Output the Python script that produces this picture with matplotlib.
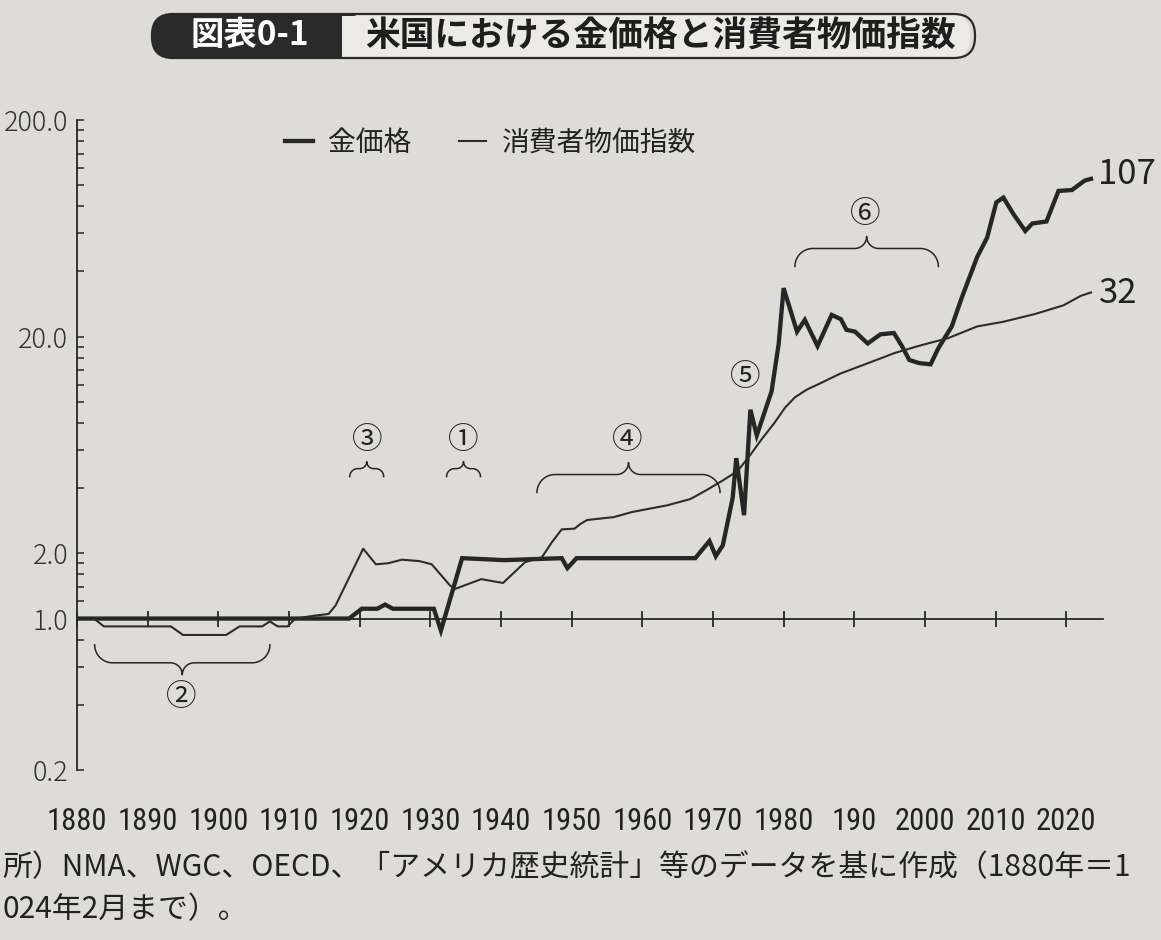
import numpy as np
import matplotlib
matplotlib.use("Agg")
import matplotlib.pyplot as plt
import matplotlib.transforms as mtransforms
import matplotlib.font_manager as fm
from matplotlib.patches import FancyBboxPatch, Rectangle

# ---- data (1880 = 1) ----
gold_years = [1880, 1918.5, 1920.3, 1922.5, 1923.6, 1924.7, 1930.5, 1931.5, 1934.5,
              1940.5, 1948.6, 1949.4, 1950.7, 1967.5, 1969.5, 1970.4, 1971.4, 1972.8,
              1973.3, 1974.4, 1975.3, 1976.2, 1978.3, 1979.3, 1980.0, 1981.9, 1983.0,
              1984.8, 1986.8, 1988.1, 1988.9, 1990.1, 1991.9, 1993.7, 1995.6, 1996.7,
              1997.8, 1999.2, 2000.8, 2001.9, 2003.8, 2005.2, 2007.4, 2008.8, 2010.1,
              2011.1, 2012.5, 2014.2, 2015.2, 2017.2, 2018.9, 2020.8, 2022.6, 2023.5]
gold_vals = [1.0, 1.0, 1.11, 1.11, 1.16, 1.11, 1.11, 0.88, 1.9,
             1.86, 1.9, 1.71, 1.9, 1.9, 2.28, 1.94, 2.18, 3.62,
             5.5, 3.0, 9.2, 7.0, 11.2, 18.5, 33.5, 21.1, 23.9,
             18.1, 25.2, 24.1, 21.5, 21.1, 18.6, 20.5, 20.8, 18.2,
             15.6, 15.1, 14.9, 17.7, 22.3, 30.2, 46.7, 57.3, 83.3,
             87.7, 73.8, 61.5, 66.6, 68.0, 94.1, 95.0, 105, 107]

cpi_years = [1880, 1882.4, 1883.8, 1893.3, 1895.0, 1901.1, 1903.0, 1906.2, 1907.3,
             1908.4, 1909.8, 1910.9, 1913.5, 1915.6, 1916.6, 1920.5, 1922.3, 1924.0,
             1926.0, 1928.5, 1930.2, 1932.8, 1933.5, 1937.2, 1940.3, 1943.4, 1945.8,
             1947.2, 1948.6, 1950.4, 1951.3, 1952.2, 1956.0, 1958.5, 1960.7, 1963.5,
             1966.8, 1969.0, 1971.4, 1973.5, 1975.3, 1977.0, 1978.7, 1980.2, 1981.6,
             1983.3, 1985.0, 1988.0, 1991.5, 1995.7, 1999.3, 2003.3, 2007.4, 2011.0,
             2015.5, 2019.6, 2022.0, 2023.5]
cpi_vals = [1.0, 1.0, 0.92, 0.92, 0.84, 0.84, 0.92, 0.92, 0.97,
            0.92, 0.92, 1.0, 1.03, 1.05, 1.15, 2.1, 1.78, 1.80,
            1.87, 1.84, 1.78, 1.42, 1.37, 1.52, 1.46, 1.82, 1.92,
            2.25, 2.58, 2.6, 2.74, 2.85, 2.94, 3.1, 3.2, 3.33,
            3.56, 3.9, 4.34, 4.8, 5.7, 6.8, 8.0, 9.4, 10.5,
            11.4, 12.1, 13.5, 14.9, 16.8, 18.2, 19.7, 22.3, 23.4,
            25.4, 27.9, 30.8, 32]

series_labels = ["金価格", "消費者物価指数"]
end_labels = ["107", "32"]

x_ticks = list(range(1880, 2021, 10))
x_ticklabels = ["1880", "1890", "1900", "1910", "1920", "1930", "1940", "1950",
                "1960", "1970", "1980", "190", "2000", "2010", "2020"]
y_major = [0.2, 1.0, 2.0, 20.0, 200.0]
y_major_labels = ["0.2", "1.0", "2.0", "20.0", "200.0"]
y_minor = [0.4, 0.6, 0.8, 1.2, 1.4, 1.6, 1.8, 4, 6, 8, 10, 12, 14, 16, 18,
           40, 60, 80, 100, 120, 140, 160, 180]

# period marks: label, label position, brace (x0, x1, cusp value, cusp up?, big?)
marks = [
    ("②", 1894.8, 0.43, (1882.5, 1907.3, 0.55, False, True)),
    ("③", 1921.1, 6.6, (1918.6, 1923.4, 5.3, True, False)),
    ("①", 1934.7, 6.6, (1932.3, 1937.1, 5.3, True, False)),
    ("④", 1957.8, 6.6, (1945.1, 1971.0, 5.25, True, True)),
    ("⑤", 1974.5, 13.0, None),
    ("⑥", 1991.6, 73.0, (1981.6, 2001.9, 58.0, True, True)),
]

title_tag = "図表0-1"
title_text = "米国における金価格と消費者物価指数"
note_line1 = "所）NMA、WGC、OECD、「アメリカ歴史統計」等のデータを基に作成（1880年＝1"
note_line2 = "024年2月まで）。"

# ---- style ----
plt.rcParams['font.family'] = ['Noto Sans CJK JP', 'DejaVu Sans']
names = {f.name for f in fm.fontManager.ttflist}
narrow = next((n for n in ['Roboto Condensed', 'Liberation Sans Narrow',
                           'Open Sans Condensed'] if n in names), None)
xlab_family = [narrow, 'Noto Sans CJK JP'] if narrow else ['Noto Sans CJK JP']

paper = '#dddcd6'
ink = '#262626'
W, H = 1161, 940

fig = plt.figure(figsize=(W / 100, H / 100), dpi=100, facecolor=paper)
ax = fig.add_axes([77 / W, 1 - 770 / H, (1103 - 77) / W, 650 / H])
ax.set_facecolor('none')
ax.set_yscale('log')
ax.set_xlim(1880, 2025.2)
ax.set_ylim(0.2, 200)

l_gold, = ax.plot(gold_years, gold_vals, color=ink, lw=3.1, solid_joinstyle='miter',
                  label=series_labels[0])
l_cpi, = ax.plot(cpi_years, cpi_vals, color='#2c2c2c', lw=1.5, label=series_labels[1])

# axes
for s in ['top', 'right']:
    ax.spines[s].set_visible(False)
ax.spines['left'].set_color(ink)
ax.spines['left'].set_linewidth(1.3)
ax.spines['bottom'].set_position(('data', 1.0))
ax.spines['bottom'].set_color(ink)
ax.spines['bottom'].set_linewidth(1.3)

ax.set_yticks(y_major)
ax.set_yticklabels(y_major_labels)
ax.set_yticks(y_minor, minor=True)
ax.yaxis.set_minor_formatter(matplotlib.ticker.NullFormatter())
ax.tick_params(axis='y', which='both', direction='in', length=5, width=1.1,
               color=ink, pad=6.5, labelsize=19.5, labelcolor='#333333')
for t in ax.get_yticklabels():
    t.set_fontweight('light')
ax.set_xticks(x_ticks)
ax.tick_params(axis='x', direction='inout', length=11, width=1.3, color=ink,
               labelbottom=False)

xtr = mtransforms.blended_transform_factory(ax.transData, fig.transFigure)
for yr, lab in zip(x_ticks, x_ticklabels):
    ax.text(yr, 1 - 822 / H, lab, transform=xtr, ha='center', va='center',
            fontsize=22, color='#222222', family=xlab_family)

# end value labels
ax.annotate(end_labels[0], (gold_years[-1], gold_vals[-1]), xytext=(5, 3),
            textcoords='offset points', va='center', ha='left', fontsize=25, color='#222222')
ax.annotate(end_labels[1], (cpi_years[-1], cpi_vals[-1]), xytext=(6, -1),
            textcoords='offset points', va='center', ha='left', fontsize=25, color='#222222')

# legend
ax.legend(handles=[l_gold, l_cpi], loc='center left', ncol=2, frameon=False,
          bbox_to_anchor=(285 / W, 1 - 143 / H), bbox_transform=fig.transFigure,
          prop={'size': 20}, handlelength=1.0, handletextpad=0.55,
          columnspacing=1.7, borderpad=0, borderaxespad=0, labelcolor='#222222')


def brace(x0, x1, yc, up, big):
    r1, r2 = (18, 12) if big else (8, 7)
    (px0, py), (px1, _) = ax.transData.transform([(x0, yc), (x1, yc)])
    pm = (px0 + px1) / 2
    s = 1 if up else -1
    yh = py - s * r2
    t = np.linspace(0, np.pi / 2, 24)
    lx = px0 + r1 - r1 * np.cos(t)
    ly = yh - s * r1 + s * r1 * np.sin(t)
    mx = pm - r2 + r2 * np.sin(t)
    my = yh + s * r2 - s * r2 * np.cos(t)
    xs = np.concatenate([lx, mx])
    ys = np.concatenate([ly, my])
    xs = np.concatenate([xs, (2 * pm - xs)[::-1]])
    ys = np.concatenate([ys, ys[::-1]])
    ax.plot(xs, ys, color=ink, lw=1.1, transform=mtransforms.IdentityTransform(),
            clip_on=False)


for lab, lx, ly, br in marks:
    ax.text(lx, ly, lab, ha='center', va='center', fontsize=22, color='#222222')
    if br is not None:
        brace(*br)

# title box (pixel coordinates)
ident = mtransforms.IdentityTransform()
top, bot = H - 14, H - 58
fig.patches.append(FancyBboxPatch((170, bot), 800, top - bot,
                                  boxstyle='round,pad=0,rounding_size=21',
                                  transform=ident, facecolor='#eceae5', edgecolor='none'))
fig.patches.append(FancyBboxPatch((152, bot), 215, top - bot,
                                  boxstyle='round,pad=0,rounding_size=21',
                                  transform=ident, facecolor='#2a2a2a', edgecolor='none'))
fig.patches.append(Rectangle((342, bot + 1.5), 40, top - bot - 3, transform=ident,
                             facecolor='#eceae5', edgecolor='none'))
fig.patches.append(FancyBboxPatch((152, bot), 823, top - bot,
                                  boxstyle='round,pad=0,rounding_size=21',
                                  transform=ident, facecolor='none', edgecolor='#2a2a2a',
                                  lw=1.6))
fig.text(250 / W, 1 - 36 / H, title_tag, ha='center', va='center', fontsize=24,
         color='white', fontweight='bold')
fig.text(365 / W, 1 - 36 / H, title_text, ha='left', va='center', fontsize=25,
         color='#1e1e1e', fontweight='bold')

# source note
fig.text(2 / W, 1 - 868 / H, note_line1, ha='left', va='center', fontsize=21.5,
         color='#222222')
fig.text(2 / W, 1 - 910 / H, note_line2, ha='left', va='center', fontsize=21.5,
         color='#222222')

fig.savefig('out.png', dpi=100, facecolor=paper)
